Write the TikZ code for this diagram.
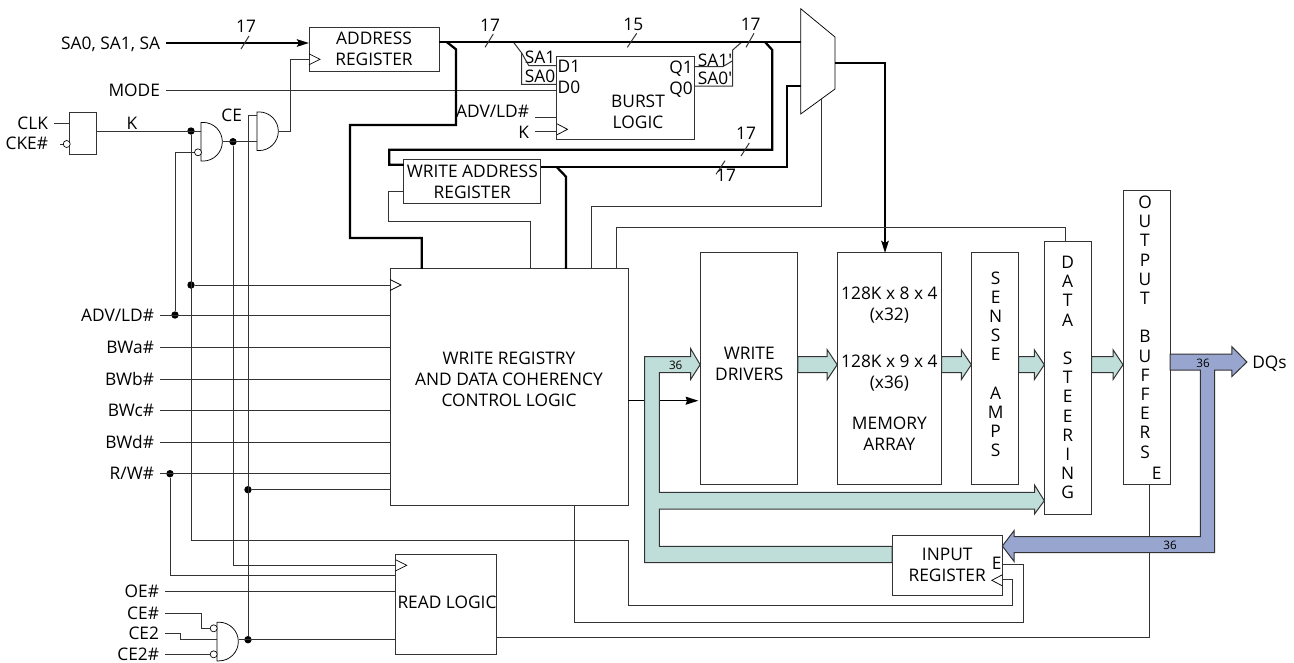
\documentclass[tikz,border=0pt]{standalone}
\usepackage{fontspec}
\setmainfont{Open Sans}
\usetikzlibrary{arrows.meta,calc}

\definecolor{wiregray}{gray}{0.2}
\definecolor{tealbus}{HTML}{BFDDD9}
\definecolor{bluebus}{HTML}{98A5CF}
\def\px{0.75pt}

\tikzset{
    wire/.style={draw=wiregray,line width=0.75pt},
    bus/.style={draw=black,line width=1.7pt},
    thintip/.style={-{Stealth[length=9pt,width=5.5pt,inset=1.5pt]}},
    block/.style 2 args={draw=wiregray,line width=0.75pt,inner sep=0pt,outer sep=0pt,
        minimum width=#1*\px,minimum height=#2*\px,align=center},
    txt/.style={inner sep=0pt,text height=9.3pt,text depth=0pt},
    siglab/.style={txt,anchor=east,outer xsep=4.5pt,outer ysep=0pt},
    column/.style={inner sep=0pt,align=center,font=\fontsize{13}{14.4}\selectfont},
    small/.style={txt,text height=6.4pt,font=\fontsize{8.75}{10}\selectfont},
    dot/.style={circle,fill=black,inner sep=0pt,minimum size=7.4*\px},
    bubble/.style={circle,draw=black,line width=0.5pt,fill=white,inner sep=0pt,minimum size=7*\px},
    gateline/.style={draw=black,line width=0.55pt},
    arrowbody/.style={draw=wiregray,line width=0.75pt,fill=tealbus},
    outbody/.style={draw=wiregray,line width=0.75pt,fill=bluebus}
}

\newcommand{\andgate}[3]{%
    \coordinate (#1) at (#2,#3);
    \coordinate (#1out) at ([xshift=16.3pt]#1);
    \draw[gateline] (#1) ++(0,-19.3) -- ++(2,0) arc[start angle=90,end angle=-90,radius=14.5pt] -- ++(-2,0) -- cycle;
}
\newcommand{\clocktip}[2]{%
    \draw[gateline] (#1)+(0,-5.5) -- +(#2,0) -- +(0,5.5);
}
\newcommand{\tealarrow}[2]{%
    \path[arrowbody] let \p1=(#1),\p2=(#2) in
        (\x1,\y1+6pt) -- (\x2-7.5pt,\y1+6pt) -- (\x2-7.5pt,\y1+11.2pt) -- (\x2,\y1)
        -- (\x2-7.5pt,\y1-11.2pt) -- (\x2-7.5pt,\y1-6pt) -- (\x1,\y1-6pt) -- cycle;
}

\begin{document}
\begin{tikzpicture}[x=0.75pt,y=-0.75pt,every node/.append style={font=\fontsize{13}{15.75}\selectfont}]
        \useasboundingbox (0,0) rectangle (1294,662);

        % Nodes
        \node[block={130}{44}] (addrreg) at (374,49) {ADDRESS\\REGISTER};
        \node[block={137.5}{83}] (burst) at (625.7,97.5) {};
        \node[block={136.7}{44}] (wareg) at (472.3,181.3) {WRITE ADDRESS\\REGISTER};
        \node[block={238}{236.5}] (wrlogic) at (509,387) {};
        \node[block={97.7}{231.5}] (wdrv) at (749,368.7) {};
        \node[block={104.4}{231.5}] (memarr) at (889.4,368.7) {128K x 8 x 4\\(x32)\\[20pt]128K x 9 x 4\\(x36)\\[15pt]MEMORY\\ARRAY};
        \node[block={47.4}{231.5}] (senseamp) at (995,368.7) {};
        \node[block={47.4}{273}] (datast) at (1068,377.5) {};
        \node[block={47}{294}] (outbuf) at (1146.5,337) {};
        \node[block={110.3}{60}] (inreg) at (947.2,565.3) {INPUT\\REGISTER};
        \node[block={101.3}{99.6}] (readlog) at (446.3,604.5) {};
        \node[block={26.7}{42}] (clkbox) at (83.3,133.7) {};

        \node[txt] (readlab) at (447,602) {READ LOGIC};
        \node[txt] (burstlab) at (638,101) {BURST};
        \node[txt] (burstlabb) at (638,122) {LOGIC};
        \node[txt] (dilab) at (569,66) {D1};
        \node[txt] (d0lab) at (569,87) {D0};
        \node[txt] (q1lab) at (681,67) {Q1};
        \node[txt] (q0lab) at (681,88) {Q0};
        \node[txt] (sa1lab) at (540,57.5) {SA1};
        \node[txt] (sa0lab) at (540,76.7) {SA0};
        \node[txt] (sa1plab) at (715,60) {SA1\textquotesingle};
        \node[txt] (sa0plab) at (715,78.7) {SA0\textquotesingle};
        \node[align=center,inner sep=0pt] (wrlab) at (509,379) {WRITE REGISTRY\\AND DATA COHERENCY\\CONTROL LOGIC};
        \node[align=center,inner sep=0pt] (wdlab) at (749.3,364) {WRITE\\DRIVERS};
        \node[column] (senselab) at (995.7,364.2) {S\\E\\N\\S\\E\\ \\A\\M\\P\\S};
        \node[column] (datalab) at (1067.7,377.6) {D\\A\\T\\A\\ \\S\\T\\E\\E\\R\\I\\N\\G};
        \node[column] (outlab) at (1145,327) {O\\U\\T\\P\\U\\T\\ \\B\\U\\F\\F\\E\\R\\S};
        \node[txt] (oelab) at (1156.6,473) {E};
        \node[txt] (inelab) at (996.7,563) {E};
        \node[txt,anchor=west] (dqlab) at (1252,362) {DQs};

        \node[siglab] (salab) at (166,43) {SA0, SA1, SA};
        \node[siglab] (modelab) at (166,90) {MODE};
        \node[siglab] (clklab) at (54,123) {CLK};
        \node[siglab] (ckelab) at (54,143.5) {CKE\#};
        \node[siglab] (celab) at (248,115) {CE};
        \node[siglab] (advlab) at (160,315) {ADV/LD\#};
        \node[siglab] (bwalab) at (160,347) {BWa\#};
        \node[siglab] (bwblab) at (160,379) {BWb\#};
        \node[siglab] (bwclab) at (160,410) {BWc\#};
        \node[siglab] (bwdlab) at (160,442) {BWd\#};
        \node[siglab] (rwlab) at (160,473.7) {R/W\#};
        \node[siglab] (oeblab) at (165,591.3) {OE\#};
        \node[siglab] (ceblab) at (165,613) {CE\#};
        \node[siglab] (ce2lab) at (165,633) {CE2};
        \node[siglab] (ce2blab) at (165,654.3) {CE2\#};
        \node[siglab] (badvlab) at (535,111) {ADV/LD\#};
        \node[siglab] (bklab) at (535,132) {K};
        \node[txt] (klab) at (132,123) {K};

        \node[txt] (n17a) at (246,26) {17};
        \node[txt] (n17b) at (490,25) {17};
        \node[txt] (n15) at (633.3,24) {15};
        \node[txt] (n17c) at (750.7,24) {17};
        \node[txt] (n17d) at (746,133) {17};
        \node[txt] (n17e) at (726,175) {17};

        \node[dot] (kdot) at (191,131) {};
        \node[dot] (clkdot) at (191,285) {};
        \node[dot] (ceidot) at (233,141.7) {};
        \node[dot] (advdot) at (175,315) {};
        \node[dot] (rwdot) at (170,473.7) {};
        \node[dot] (cebdot) at (248,489.7) {};
        \node[dot] (cecdot) at (248,639.7) {};

        \coordinate (ckein) at (60,144);
        \coordinate (badvin) at (535,117.3);
        \coordinate (bkin) at (535,131.3);
        \coordinate (muxtl) at (800.7,8.7);
        \coordinate (muxtr) at (835,37);
        \coordinate (muxbr) at (835,89);
        \coordinate (muxbl) at (800.7,114);
        \coordinate (busy) at (0,42);
        \coordinate (rdclk) at (395.7,565.3);
        \coordinate (rwin) at (395.7,575.7);
        \coordinate (inclk) at (1012.7,579.7);
        \coordinate (ine) at (1023.3,564);
        \coordinate (aclk) at (290.3,59.7);
        \coordinate (cetop) at (248,115.3);

        % Gates
        \andgate{gatea}{201}{141.7}
        \andgate{gateb}{257}{131.2}
        \andgate{gatec}{217}{641.5}
        \draw[gateline,fill=white] (muxtl) -- (muxtr) -- (muxbr) -- (muxbl) -- cycle;
        \clocktip{309,59.3}{11}
        \clocktip{557,129.3}{10.5}
        \clocktip{390,285}{11}
        \clocktip{395.7,565.3}{11}
        \clocktip{1002.3,580.3}{-10.5}

        % Arrows
        \draw[bus,thintip] (salab.east) -- (salab.east -| addrreg.west);
        \draw[wire] (modelab.east) -- (modelab.east -| burst.west);
        \draw[wire] (clklab.east) -- (clklab.east -| clkbox.west);
        \draw[wire] (ckein) -- (66,144);
        \draw[wire] (clkbox.east |- kdot) -- (gatea |- kdot);
        \draw[wire] (kdot) |- (628,540) -- (628,605.7) -| (inclk) -- (inclk -| inreg.east);
        \draw[wire] (clkdot) -- (clkdot -| wrlogic.west);
        \draw[wire] (gateaout) -- (gateb |- gateaout);
        \draw[wire] (ceidot) |- (rdclk);
        \draw[wire] (gatebout) -| (aclk) -- (aclk -| addrreg.west);
        \draw[wire] (gateb |- cetop) -- (cetop) -- (cecdot);
        \draw[wire] (196,152.3) -| (advdot);

        \draw[wire] (advlab.east) -- (advlab.east -| wrlogic.west);
        \draw[wire] (bwalab.east) -- (bwalab.east -| wrlogic.west);
        \draw[wire] (bwblab.east) -- (bwblab.east -| wrlogic.west);
        \draw[wire] (bwclab.east) -- (bwclab.east -| wrlogic.west);
        \draw[wire] (bwdlab.east) -- (bwdlab.east -| wrlogic.west);
        \draw[wire] (rwlab.east) -- (rwlab.east -| wrlogic.west);
        \draw[wire] (cebdot) -- (cebdot -| wrlogic.west);
        \draw[wire] (rwdot) |- (rwin);
        \draw[wire] (oeblab.east) -- (oeblab.east -| readlog.west);
        \draw[wire] (ceblab.east) -- (201.7,613) |- (213.7,628.3);
        \draw[wire] (ce2lab.east) -- (180.7,633) |- (gatec |- cecdot);
        \draw[wire] (ce2blab.east) -- (213.7,654.3);
        \draw[wire] (gatecout |- cecdot) -- (cecdot -| readlog.west);

        \draw[wire] (badvin) -- (badvin -| burst.west);
        \draw[wire] (bkin) -- (bkin -| burst.west);
        \draw[wire] (513.3,42) -- (521.7,53) -- (521.7,84.3) -- (burst.west |- 0,84.3);
        \draw[wire] (521.7,53) -- (528.7,65.5) -- (burst.west |- 0,65.5);
        \draw[wire] (burst.east |- 0,66.7) -- (722.7,66.7) -- (732.7,60.7);
        \draw[wire] (burst.east |- 0,86) -- (732.7,86) -- (732.7,50) -- (741.7,42);

        % Buses
        \draw[bus] (addrreg.east |- busy) -- (muxtl |- busy);
        \draw[bus] (446.7,42) -- (456,49.3) -- (456,125) -- (350,125) -- (350,238) -- (421.7,238) -- (wrlogic.north -| 421.7,0);
        \draw[bus] (765,42) -- (772.3,50) -- (772.3,149.7) -- (389.3,149.7) -- (389.3,164.7) -- (wareg.west |- 0,164.7);
        \draw[bus] (wareg.east |- 0,166.7) -- (786.7,166.7) -- (786.7,85.7) -- (muxtl |- 0,85.7);
        \draw[bus] (556.7,167) -- (566,176.7) -- (wrlogic.north -| 566,0);
        \draw[bus,thintip] (muxtr |- 0,63) -- (885,63) -- (memarr.north -| 885,0);

        \draw[wire] (wareg.west |- 0,191.3) -- (388.7,191.3) -- (388.7,221.7) -- (530,221.7) -- (wrlogic.north -| 530,0);
        \draw[wire] (wrlogic.north -| 591,0) -- (591,206) -- (821,206) -- (821,99.3);
        \draw[wire] (wrlogic.north -| 616.7,0) -- (616.7,227.3) -- (1065.3,227.3) -- (datast.north -| 1065.3,0);
        \draw[draw=black,line width=0.75pt,-{Stealth[length=9.5pt,width=6pt,inset=1pt]}] (wrlogic.east |- 0,400.7) -- (698.3,400.7);
        \draw[wire] (wrlogic.south -| 574,0) -- (574,622) -| (ine) -- (ine -| inreg.east);
        \draw[wire] (readlog.east |- 0,637.3) -- (1149.3,637.3) -- (outbuf.south -| 1149.3,0);

        % Tick marks
        \draw[wire] (241,49) -- (249,36);
        \draw[wire] (485,47.3) -- (493.3,34);
        \draw[wire] (627.3,47.3) -- (636.7,33.3);
        \draw[wire] (746,47.3) -- (754,33.3);
        \draw[wire] (741,156) -- (749.3,143);
        \draw[wire] (716,174.3) -- (725,160.7);

        % Data paths
        \coordinate (rowm) at (0,364.7);
        \tealarrow{wdrv.east |- rowm}{memarr.west |- rowm}
        \tealarrow{memarr.east |- rowm}{senseamp.west |- rowm}
        \tealarrow{senseamp.east |- rowm}{datast.west |- rowm}
        \tealarrow{datast.east |- rowm}{outbuf.west |- rowm}
        \draw[arrowbody] (inreg.west |- 0,562.7) -- (644.7,562.7) -- (644.7,356.7) -- (690.7,356.7) -- (690.7,348.7)
            -- (wdrv.west |- rowm) -- (690.7,379.3) -- (690.7,372.7) -- (659.3,372.7) -- (659.3,492.3)
            -- (1034.5,492.3) -- (1034.5,485) -- (datast.west |- 0,500.7) -- (1034.5,514) -- (1034.5,509)
            -- (659.3,509) -- (659.3,546.3) -- (inreg.west |- 0,546.3) -- cycle;
        \draw[outbody] (outbuf.east |- 0,354) -- (1231.9,354) -- (1231.9,346.7) -- (1246.9,362) -- (1231.9,376.5)
            -- (1231.9,370) -- (1214.5,370) -- (1214.5,552.7) -- (1014,552.7) -- (1014,561.3)
            -- (inreg.east |- 0,546) -- (1014,530.7) -- (1014,536.7) -- (1200.3,536.7) -- (1200.3,370)
            -- (outbuf.east |- 0,370) -- cycle;
        \node[small] (w36) at (675.7,365) {36};
        \node[small] (o36) at (1203,363.3) {36};
        \node[small] (i36) at (1170,545.3) {36};

        % Inverters
        \node[bubble] (ckebub) at (66.7,144) {};
        \node[bubble] (gabub) at (198,152.3) {};
        \node[bubble] (gcbuba) at (213.7,628.3) {};
        \node[bubble] (gcbubb) at (213.7,654.3) {};
\end{tikzpicture}
\end{document}
